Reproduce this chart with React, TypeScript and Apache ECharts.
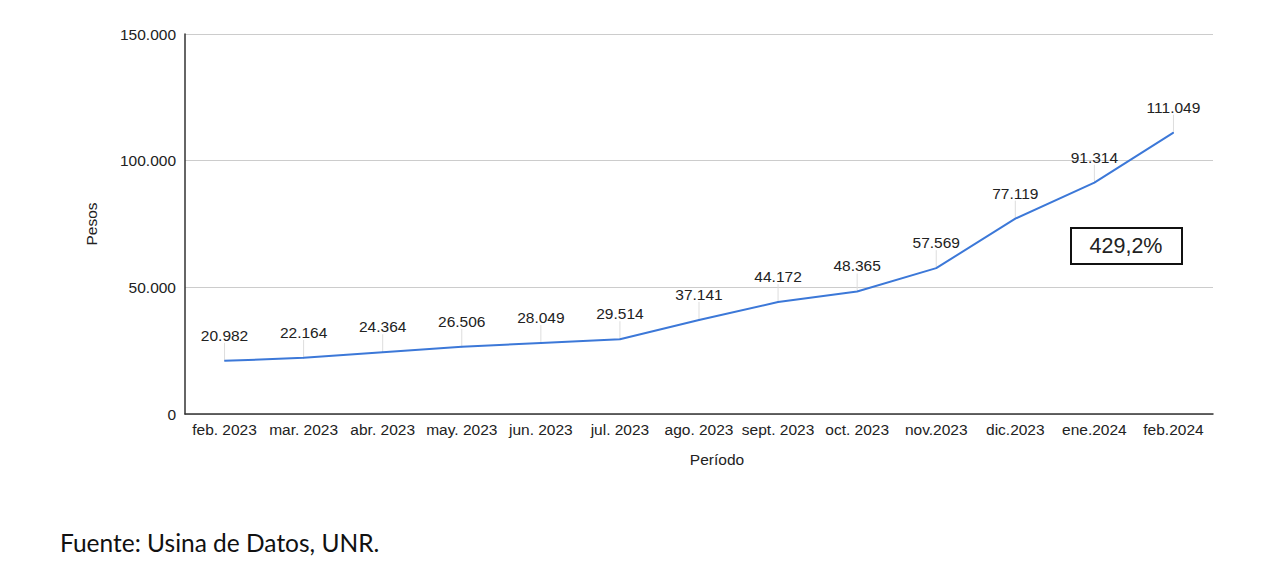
import React, { useEffect, useRef } from "react";
import * as echarts from "echarts";

const categories = [
  "feb. 2023", "mar. 2023", "abr. 2023", "may. 2023", "jun. 2023", "jul. 2023",
  "ago. 2023", "sept. 2023", "oct. 2023", "nov.2023", "dic.2023", "ene.2024", "feb.2024",
];
const values = [20982, 22164, 24364, 26506, 28049, 29514, 37141, 44172, 48365, 57569, 77119, 91314, 111049];
const yTicks = [0, 50000, 100000, 150000];
const boxText = "429,2%";
const sourceText = "Fuente: Usina de Datos, UNR.";

const fmt = (v: number) => {
  const s = Math.round(v).toString();
  return s.replace(/\B(?=(\d{3})+(?!\d))/g, ".");
};

export default function App() {
  const ref = useRef<HTMLDivElement>(null);
  useEffect(() => {
    if (!ref.current) return;
    const chart = echarts.init(ref.current, undefined, { renderer: "svg" });
    const font = "Liberation Sans, Arial, sans-serif";
    const fs = 15.5;
    chart.setOption({
      animation: false,
      textStyle: { fontFamily: font },
      grid: { left: 185, right: 62, top: 34, bottom: 148 },
      xAxis: {
        type: "category",
        data: categories,
        boundaryGap: true,
        name: "Período",
        nameLocation: "middle",
        nameGap: 37,
        nameTextStyle: { fontSize: fs, color: "#222", fontFamily: font, padding: [0, 0, 0, 36] },
        axisLine: { lineStyle: { color: "#333", width: 1.5 } },
        axisTick: { show: false },
        axisLabel: { fontSize: fs, color: "#222", margin: 7, interval: 0, fontFamily: font },
      },
      yAxis: {
        type: "value",
        min: yTicks[0],
        max: yTicks[yTicks.length - 1],
        interval: 50000,
        name: "Pesos",
        nameLocation: "middle",
        nameGap: 86,
        nameRotate: 90,
        nameTextStyle: { fontSize: fs, color: "#222", fontFamily: font },
        axisLine: { show: true, lineStyle: { color: "#333", width: 1.5 } },
        axisTick: { show: false },
        splitLine: { lineStyle: { color: "#cccccc", width: 1 } },
        axisLabel: { fontSize: fs, color: "#222", margin: 9, formatter: (v: number) => fmt(v), fontFamily: font },
      },
      series: [
        {
          type: "custom",
          data: values.map((v, i) => [i, v]),
          z: 1,
          silent: true,
          renderItem: (params: any, api: any) => {
            const p = api.coord([api.value(0), api.value(1)]);
            return {
              type: "line",
              shape: { x1: p[0], y1: p[1], x2: p[0], y2: p[1] - 18 },
              style: { stroke: "#dddddd", lineWidth: 1 },
            };
          },
        },
        {
          type: "line",
          data: values,
          z: 3,
          symbol: "circle",
          symbolSize: 1,
          showSymbol: true,
          lineStyle: { color: "#3c78d8", width: 2 },
          itemStyle: { color: "#3c78d8" },
          label: {
            show: true,
            position: "top",
            distance: 17,
            fontSize: fs,
            color: "#222",
            fontFamily: font,
            formatter: (p: any) => fmt(p.value),
          },
        },
      ],
      graphic: [
        {
          type: "rect",
          shape: { x: 1071, y: 228, width: 111, height: 36 },
          style: { fill: "#fff", stroke: "#111", lineWidth: 2 },
        },
        {
          type: "text",
          x: 1126,
          y: 246,
          style: {
            text: boxText,
            fontSize: 21.5,
            fontFamily: font,
            fill: "#222",
            align: "center",
            verticalAlign: "middle",
          },
        },
        {
          type: "text",
          x: 60,
          y: 542,
          style: {
            text: sourceText,
            fontSize: 24.5,
            fontFamily: "Lato, sans-serif",
            fill: "#111",
            align: "left",
            verticalAlign: "middle",
          },
        },
      ],
    });
    return () => chart.dispose();
  }, []);
  return (
    <div
      ref={ref}
      style={{ position: "absolute", left: 0, top: 0, width: 1275, height: 562, background: "#fff" }}
    />
  );
}
